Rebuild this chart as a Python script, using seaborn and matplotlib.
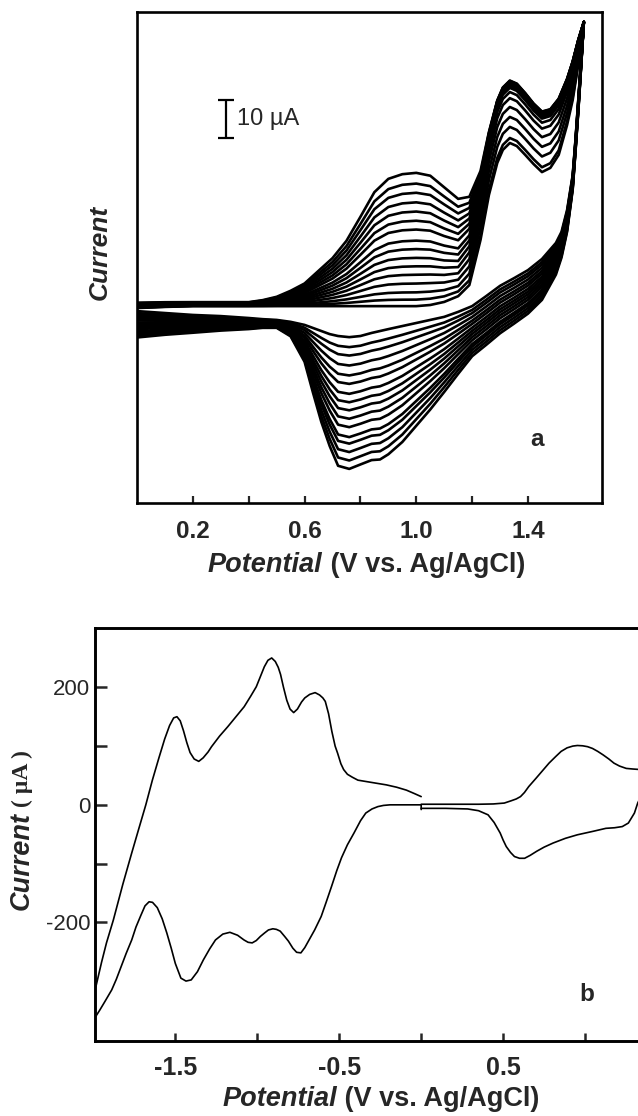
import numpy as np
import pandas as pd
import matplotlib
matplotlib.use("Agg")
import matplotlib.pyplot as plt
import seaborn as sns
from matplotlib.offsetbox import TextArea, HPacker, AnchoredOffsetbox

sns.set_style("ticks")
plt.rcParams["font.family"] = ["Liberation Sans", "DejaVu Sans"]
plt.rcParams["axes.unicode_minus"] = False
plt.rcParams["axes.linewidth"] = 1.9
plt.rcParams["axes.edgecolor"] = "black"

# ---------------- (a) repetitive cycling between 0 and 1.6 V ----------------
scan_fwd = [0.00, 0.10, 0.20, 0.30, 0.40, 0.45, 0.50, 0.55, 0.60, 0.65,
            0.70, 0.75, 0.80, 0.85, 0.90, 0.95, 1.00, 1.05, 1.10, 1.15,
            1.19, 1.23, 1.26, 1.29, 1.31, 1.335, 1.36, 1.39, 1.42, 1.45,
            1.48, 1.51, 1.54, 1.56, 1.58, 1.60]
# anodic sweep of the first cycle (uA)
i_fwd_first = [-0.8, -0.5, -0.3, -0.3, -0.3, -0.3, -0.3, -0.3, -0.3, -0.3,
               -0.3, -0.3, -0.3, -0.3, -0.3, -0.3, -0.3, 0.0, 0.8, 2.3,
               5.2, 17.0, 28.7, 37.1, 40.5, 42.3, 41.5, 39.2, 36.8, 34.7,
               35.8, 39.2, 47.0, 53.5, 62.7, 73.9]
# shape of the growing wave near 1.0 V (1 at its top)
wave_1v = [0.04, 0.035, 0.03, 0.03, 0.03, 0.045, 0.07, 0.115, 0.17, 0.265,
           0.36, 0.49, 0.67, 0.855, 0.955, 0.99, 1.0, 0.97, 0.86, 0.73,
           0.55, 0.25, 0.06, 0.0, 0.0, 0.0, 0.0, 0.0, 0.0, 0.0,
           0.0, 0.0, 0.0, 0.0, 0.0, 0.0]
# shape of the growth around the 1.33 V peak (1 at its top)
wave_13v = [0.0, 0.0, 0.0, 0.0, 0.0, 0.0, 0.0, 0.0, 0.0, 0.0,
            0.0, 0.0, 0.0, 0.0, 0.0, 0.0, 0.0, 0.0, 0.0, 0.0,
            0.24, 0.57, 0.88, 1.0, 1.0, 1.0, 1.0, 0.99, 0.97, 0.97,
            0.94, 0.90, 0.74, 0.62, 0.40, 0.0]

scan_rev = [1.60, 1.59, 1.58, 1.57, 1.56, 1.54, 1.52, 1.50, 1.45, 1.40,
            1.35, 1.30, 1.25, 1.20, 1.15, 1.10, 1.05, 1.00, 0.95, 0.90,
            0.87, 0.84, 0.80, 0.76, 0.72, 0.69, 0.66, 0.63, 0.60, 0.55,
            0.50, 0.45, 0.40, 0.30, 0.20, 0.10, 0.00]
# cathodic sweep of the first cycle (uA)
i_rev_first = [73.9, 64.0, 53.5, 43.1, 33.9, 24.8, 19.1, 16.2, 12.0, 9.1,
               7.0, 5.0, 2.3, -0.3, -1.8, -3.1, -3.9, -4.7, -5.5, -6.3,
               -6.8, -7.3, -8.1, -8.4, -8.1, -7.6, -6.8, -6.0, -5.2, -4.4,
               -3.9, -3.7, -3.4, -2.9, -2.6, -2.1, -1.6]
# shape of the growing reduction wave near 0.76 V (-1 at its bottom)
wave_cath = [0.0, -0.06, -0.09, -0.09, -0.11, -0.165, -0.195, -0.24, -0.31, -0.33,
             -0.345, -0.36, -0.37, -0.38, -0.47, -0.57, -0.68, -0.78, -0.88, -0.95,
             -0.975, -0.965, -0.975, -1.0, -0.985, -0.85, -0.69, -0.49, -0.28, -0.11,
             -0.06, -0.066, -0.084, -0.11, -0.135, -0.165, -0.2]

# growth of each wave, cycle by cycle (uA above the first cycle)
peak_1v = [0.0, 1.7, 3.6, 5.9, 8.2, 10.4, 12.6, 14.9, 17.1, 20.0,
           22.3, 24.7, 27.1, 29.6, 32.0, 34.8]
peak_133v = [0.0, 1.3, 4.2, 6.8, 9.4, 11.7, 13.3, 14.4, 14.9, 15.4,
             15.7, 15.8, 15.9, 16.1, 16.2, 16.3]
peak_cath = [0.0, 2.6, 4.8, 7.4, 10.0, 12.2, 14.8, 17.0, 19.1, 21.3,
             23.5, 26.1, 27.8, 30.0, 32.2, 34.4]

scale_bar_uA = 10

# ---------------- (b) single scans over the wide window ----------------
neg_up_E = [-1.985, -1.95, -1.92, -1.878, -1.82, -1.766, -1.72, -1.68, -1.64, -1.60,
            -1.565, -1.535, -1.51, -1.49, -1.47, -1.45, -1.43, -1.41, -1.385, -1.357,
            -1.33, -1.30, -1.279, -1.23, -1.18, -1.13, -1.08, -1.04, -1.006, -0.98,
            -0.957, -0.935, -0.912, -0.89, -0.872, -0.858, -0.84, -0.82, -0.80, -0.778,
            -0.755, -0.73, -0.71, -0.68, -0.647, -0.62, -0.60, -0.585, -0.565, -0.545,
            -0.525, -0.51, -0.49, -0.473, -0.45, -0.42, -0.386, -0.30, -0.213, -0.15,
            -0.09, -0.04, 0.0]
neg_up_I = [-310, -268, -235, -196, -135, -82, -38, 0, 42, 80,
            112, 135, 148, 150, 143, 126, 106, 89, 78, 74,
            80, 90, 99, 117, 133, 150, 167, 185, 201, 219,
            235, 246, 250, 244, 234, 222, 200, 178, 163, 157,
            163, 175, 182, 188, 191, 187, 182, 176, 155, 125,
            100, 88, 70, 60, 52, 47, 42, 38, 34, 30,
            25, 19, 14]

neg_low_E = [0.0, -0.10, -0.19, -0.23, -0.264, -0.30, -0.338, -0.37, -0.41, -0.45,
             -0.486, -0.515, -0.547, -0.58, -0.61, -0.65, -0.684, -0.71, -0.734, -0.76,
             -0.783, -0.81, -0.833, -0.86, -0.883, -0.905, -0.932, -0.955, -0.981, -1.006,
             -1.031, -1.056, -1.081, -1.12, -1.167, -1.21, -1.255, -1.29, -1.329, -1.365,
             -1.403, -1.435, -1.466, -1.50, -1.525, -1.552, -1.58, -1.61, -1.639, -1.66,
             -1.685, -1.71, -1.74, -1.766, -1.80, -1.83, -1.86, -1.888, -1.93, -1.96,
             -1.985]
neg_low_I = [0, 0, 0, -1, -3, -7, -14, -27, -48, -68,
             -90, -112, -139, -166, -190, -213, -230, -243, -252, -251,
             -244, -232, -224, -215, -212, -211, -213, -218, -224, -231,
             -235, -234, -230, -222, -217, -220, -230, -245, -264, -284,
             -298, -300, -295, -270, -244, -218, -194, -175, -166, -165,
             -172, -188, -208, -230, -253, -275, -297, -315, -335, -349,
             -360]

pos_up_E = [0.0, 0.0, 0.20, 0.35, 0.44, 0.507, 0.55, 0.58, 0.606, 0.63,
            0.656, 0.70, 0.74, 0.78, 0.82, 0.854, 0.89, 0.925, 0.953, 0.985,
            1.015, 1.045, 1.077, 1.11, 1.145, 1.176, 1.21, 1.251, 1.29, 1.34]
pos_up_I = [-8, 1, 1, 1, 1.5, 3, 7, 10, 14, 21,
            31, 45, 58, 71, 82, 91, 97, 100, 101, 100.5,
            99, 96, 91, 85, 78, 71, 66, 62, 61, 60]

pos_low_E = [1.34, 1.321, 1.301, 1.264, 1.227, 1.18, 1.127, 1.05, 0.953, 0.88,
             0.805, 0.75, 0.705, 0.665, 0.631, 0.60, 0.569, 0.545, 0.519, 0.50,
             0.482, 0.445, 0.408, 0.35, 0.284, 0.15, 0.011, 0.0]
pos_low_I = [14, 3, -14, -31, -37, -39, -40, -45, -51, -57,
             -65, -72, -79, -86, -91, -91, -88, -81, -71, -60,
             -48, -30, -17, -10, -7, -6, -6, -6]

# ---------------- tables for seaborn ----------------
f_first = np.array(i_fwd_first)
r_first = np.array(i_rev_first)
frames = []
for k, (a, b, c) in enumerate(zip(peak_1v, peak_133v, peak_cath)):
    fwd = f_first + a * np.array(wave_1v) + b * np.array(wave_13v)
    rev = r_first + c * np.array(wave_cath)
    frames.append(pd.DataFrame({
        "E": np.concatenate([scan_fwd, scan_rev]),
        "I": np.concatenate([fwd, rev]),
        "cycle": k,
    }))
df_a = pd.concat(frames, ignore_index=True)

branches = [("neg_up", neg_up_E, neg_up_I), ("neg_low", neg_low_E, neg_low_I),
            ("pos_up", pos_up_E, pos_up_I), ("pos_low", pos_low_E, pos_low_I)]
df_b = pd.concat([pd.DataFrame({"E": e, "I": i, "branch": n}) for n, e, i in branches],
                 ignore_index=True)

# ---------------- figure ----------------
W, H = 638, 1116
fig = plt.figure(figsize=(W / 100, H / 100), dpi=100)
ax1 = fig.add_axes([137 / W, 1 - 503 / H, 465 / W, 491 / H])
ax2 = fig.add_axes([95 / W, 1 - 1041 / H, 545 / W, 413 / H])

# panel a
sns.lineplot(data=df_a, x="E", y="I", units="cycle", estimator=None, sort=False,
             color="black", lw=1.9, ax=ax1, legend=False)
ax1.set_xlim(0.0, 1.665)
ax1.set_ylim(-51.7, 76.5)
ax1.set_xticks([0.2, 0.4, 0.6, 0.8, 1.0, 1.2, 1.4])
ax1.set_xticklabels(["0.2", "", "0.6", "", "1.0", "", "1.4"])
ax1.set_yticks([])
ax1.tick_params(axis="x", direction="in", length=5, width=1.6, pad=12, labelsize=17.5)
for t in ax1.get_xticklabels():
    t.set_fontweight("bold")
ax1.set_xlabel("")
ax1.set_ylabel("")
for s in ax1.spines.values():
    s.set_visible(True)
    s.set_linewidth(1.9)

# 10 uA scale bar
bar_mid = 48.6
ax1.errorbar([0.32], [bar_mid], yerr=[scale_bar_uA / 2], fmt="none", ecolor="black",
             elinewidth=1.6, capsize=5.5, capthick=1.6)
ax1.text(0.357, bar_mid, "10 \u00b5A", fontsize=17, va="center", ha="left")
ax1.text(1.432, -35.2, "a", fontsize=17.5, fontweight="bold", ha="center", va="center")
ax1.text(-0.0796, 0.51, "Current", transform=ax1.transAxes, rotation=90,
         fontsize=19, fontweight="bold", fontstyle="italic", ha="center", va="center")

lab_a = HPacker(children=[
    TextArea("Potential", textprops=dict(fontsize=19.5, fontweight="bold", fontstyle="italic")),
    TextArea(" (V vs. Ag/AgCl)", textprops=dict(fontsize=19.5, fontweight="bold")),
], align="baseline", pad=0, sep=0)
ax1.add_artist(AnchoredOffsetbox(loc="upper center", child=lab_a, pad=0, borderpad=0,
                                 frameon=False, bbox_to_anchor=(0.4935, -0.1),
                                 bbox_transform=ax1.transAxes))

# panel b
sns.lineplot(data=df_b, x="E", y="I", units="branch", estimator=None, sort=False,
             color="black", lw=1.2, ax=ax2, legend=False)
ax2.set_xlim(-1.99, 1.335)
ax2.set_ylim(-402, 301)
ax2.set_xticks([-1.5, -1.0, -0.5, 0.0, 0.5, 1.0])
ax2.set_xticklabels(["-1.5", "", "-0.5", "", "0.5", ""])
ax2.set_yticks([-200, -100, 0, 100, 200])
ax2.set_yticklabels(["-200", "", "0", "", "200"])
ax2.tick_params(axis="x", direction="in", length=6, width=1.8, pad=11, labelsize=18)
ax2.tick_params(axis="y", direction="in", length=8.5, width=1.8, pad=3.5, labelsize=16)
for t in ax2.get_xticklabels():
    t.set_fontweight("bold")
ax2.set_xlabel("")
ax2.set_ylabel("")
for s in ax2.spines.values():
    s.set_visible(True)
    s.set_linewidth(2.1)
ax2.text(1.01, -323, "b", fontsize=17.5, fontweight="bold", ha="center", va="center")

cur = ax2.text(-0.134, 0.317, "Current", transform=ax2.transAxes, rotation=90,
               fontsize=19.5, fontweight="bold", fontstyle="italic", ha="center", va="bottom")
ax2.annotate("( \u00b5A )", xy=(0.5, 1.0), xycoords=cur, xytext=(0, 4),
             textcoords="offset points", rotation=90, ha="center", va="bottom",
             fontsize=17, fontweight="bold", family=["Liberation Serif", "DejaVu Serif"])

lab_b = HPacker(children=[
    TextArea("Potential", textprops=dict(fontsize=19.5, fontweight="bold", fontstyle="italic")),
    TextArea(" (V vs. Ag/AgCl)", textprops=dict(fontsize=19.5, fontweight="bold")),
], align="baseline", pad=0, sep=0)
ax2.add_artist(AnchoredOffsetbox(loc="upper center", child=lab_b, pad=0, borderpad=0,
                                 frameon=False, bbox_to_anchor=(0.525, -0.11),
                                 bbox_transform=ax2.transAxes))

fig.savefig("out.png", dpi=100, facecolor="white")
